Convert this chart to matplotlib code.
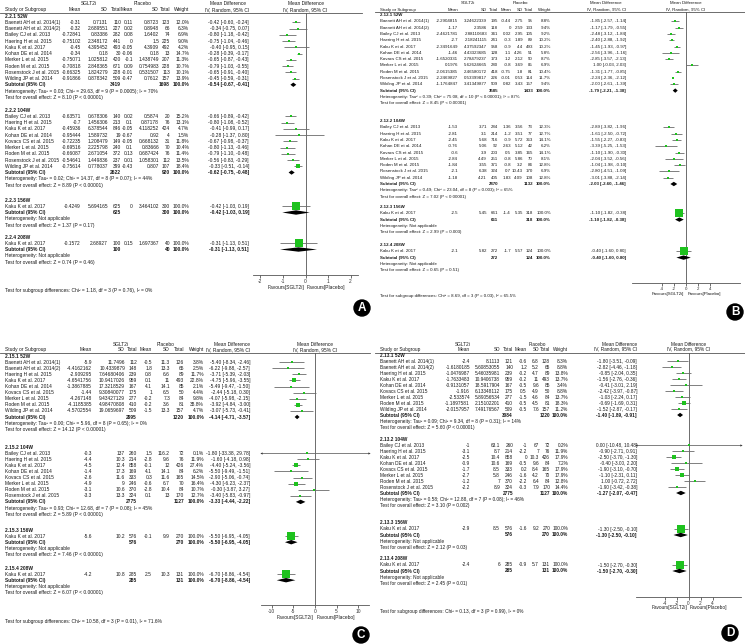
import matplotlib
matplotlib.use("Agg")
import matplotlib.pyplot as plt
from matplotlib.patches import Polygon, Circle

plt.rcParams['font.family'] = ['Liberation Sans', 'DejaVu Sans']

W, H = 745, 644
TXT = '#1a1a1a'
GREEN = '#1ec21e'
CILINE = '#6a6a6a'

# ---------------- Panel A ----------------
a_titles = ['2.2.1 52W', '2.2.2 104W', '2.2.3 156W', '2.2.4 208W']
a_study = ['Baenett AH et al. 2014(1)', 'Baenett AH et al. 2014(2)', 'Bailey CJ et al. 2013',
           'Haering H et al. 2015', 'Kaku K et al. 2017', 'Kohan DE et al. 2014',
           'Merker L et al. 2015', 'Roden M et al. 2015', 'Rosenstock J et al. 2015',
           'Wilding JP et al. 2014',
           'Bailey CJ et al. 2013', 'Haering H et al. 2015', 'Kaku K et al. 2017',
           'Kohan DE et al. 2014', 'Kovacs CS et al. 2015', 'Merker L et al. 2015',
           'Roden M et al. 2015', 'Rosenstock J et al. 2015', 'Wilding JP et al. 2014',
           'Kaku K et al. 2017', 'Kaku K et al. 2017']
a_group = [0] * 10 + [1] * 9 + [2, 3]
a_e_mean = [-0.31, -0.32, -0.72841, -0.75102, -0.45, -0.34, -0.75071, -0.70818, -0.66325, -0.91866,
            -0.63571, -0.7, -0.45936, -0.95444, -0.72235, -0.69516, -0.66087, -0.54641, -0.75614,
            -0.4249, -0.1572]
a_e_sd = [0.7131, 2.689551, 0.83386, 2.348172, 4.395452, 0.18, 1.025812, 2.848365, 1.824279, 0.878342,
          0.678306, 1.456306, 6.378544, 1.589732, 1.208479, 2.225798, 2.671054, 1.449836, 0.778037,
          5.694165, 2.68927]
a_e_n = [110, 227, 282, 441, 493, 30, 420, 671, 228, 509,
         140, 213, 846, 19, 149, 240, 372, 237, 399, 625, 100]
a_c_mean = [0.11, 0.02, 0.08, 0, -0.05, -0.06, -0.1, 0.09, -0.01, -0.47,
            0.02, 0.1, -0.05, -0.67, -0.05, 0.1, 0.13, 0.01, -0.43, 0, 0.15]
a_c_sd = [0.8723, 0.8948, 1.6402, 1.5, 4.3909, 0.18, 1.438749, 0.754983, 0.531507, 0.7612,
          0.5874, 0.87178, 4.118252, 0.92, 0.668132, 0.83666, 0.687424, 1.058301, 0.807,
          3.464102, 1.697367]
a_c_n = [123, 66, 74, 225, 492, 13, 207, 228, 113, 157,
         20, 76, 424, 4, 31, 70, 76, 112, 107, 300, 40]
a_weight = [12.0, 6.3, 6.9, 9.0, 4.2, 14.7, 11.3, 10.7, 10.1, 13.9,
            15.2, 13.1, 4.7, 1.5, 11.8, 10.4, 11.4, 13.5, 18.4, 100.0, 100.0]
a_md = [-0.42, -0.34, -0.80, -0.75, -0.40, -0.28, -0.65, -0.79, -0.65, -0.45,
        -0.66, -0.80, -0.41, -0.28, -0.67, -0.80, -0.79, -0.56, -0.33, -0.42, -0.31]
a_lo = [-0.60, -0.75, -1.18, -1.04, -0.95, -0.39, -0.87, -1.03, -0.91, -0.59,
        -0.89, -1.08, -0.99, -1.37, -0.98, -1.13, -1.10, -0.83, -0.51, -1.03, -1.13]
a_hi = [-0.24, 0.07, -0.42, -0.46, 0.15, -0.17, -0.43, -0.55, -0.40, -0.31,
        -0.42, -0.52, 0.17, 0.80, -0.37, -0.46, -0.48, -0.29, -0.14, 0.19, 0.51]
a_sub_e_n = [3419, 2622, 625, 100]
a_sub_c_n = [1698, 920, 300, 40]
a_sub_md = [-0.54, -0.62, -0.42, -0.31]
a_sub_lo = [-0.67, -0.75, -1.03, -1.13]
a_sub_hi = [-0.41, -0.48, 0.19, 0.51]
a_het = ['Heterogeneity: Tau² = 0.03; Chi² = 29.63, df = 9 (P = 0.0005); I² = 70%',
         'Heterogeneity: Tau² = 0.02; Chi² = 14.37, df = 8 (P = 0.07); I² = 44%',
         'Heterogeneity: Not applicable', 'Heterogeneity: Not applicable']
a_test = ['Test for overall effect: Z = 8.10 (P < 0.00001)',
          'Test for overall effect: Z = 8.89 (P < 0.00001)',
          'Test for overall effect: Z = 1.37 (P = 0.17)',
          'Test for overall effect: Z = 0.74 (P = 0.46)']
a_diff = 'Test for subgroup differences: Chi² = 1.18, df = 3 (P = 0.76), I² = 0%'

# ---------------- Panel B ----------------
b_titles = ['2.12.1 52W', '2.12.2 104W', '2.12.3 156W', '2.12.4 208W']
b_study = ['Baenett AH et al. 2014(1)', 'Baenett AH et al. 2014(2)', 'Bailey CJ et al. 2013',
           'Haering H et al. 2015', 'Kaku K et al. 2017', 'Kohan DE et al. 2014',
           'Kovacs CS et al. 2015', 'Merker L et al. 2015', 'Roden M et al. 2015',
           'Rosenstock J et al. 2015', 'Wilding JP et al. 2014',
           'Bailey CJ et al. 2013', 'Haering H et al. 2015', 'Kaku K et al. 2017',
           'Kohan DE et al. 2014', 'Kovacs CS et al. 2015', 'Merker L et al. 2015',
           'Roden M et al. 2015', 'Rosenstock J et al. 2015', 'Wilding JP et al. 2014',
           'Kaku K et al. 2017', 'Kaku K et al. 2017']
b_group = [0] * 11 + [1] * 9 + [2, 3]
b_e_mean = [-2.2904815, -1.17, -2.4621781, -2.7, -2.3491649, -1.46, -1.6520331, 0.1976, -2.0615385,
            -2.2469827, -1.1764847,
            -1.53, -2.81, -2.45, -0.76, -0.6, -2.84, -1.84, -2.1, -1.18, -2.5, -2.1]
b_e_sd = [3.24622339, 2.3586, 2.88110683, 2.18241115, 4.37592347, 4.43323685, 2.78479237, 5.62624665,
          2.46580172, 0.53399817, 3.41349877,
          3.71, 3.1, 5.68, 5.06, 3.9, 4.49, 3.55, 6.38, 4.21, 5.45, 5.82]
b_e_n = [195, 118, 341, 241, 958, 128, 173, 280, 418, 226, 509,
         284, 214, 716, 92, 203, 251, 371, 324, 405, 661, 272]
b_c_mean = [-0.44, 0, 0.02, -0.3, -0.9, 1.1, 1.2, -0.8, -0.75, -0.01, 0.82,
            1.36, -1.2, -0.9, 2.63, 0.5, -0.8, -0.8, 0.7, 1.83, -1.4, -1.7]
b_c_sd = [2.75, 2.59, 2.95, 1.89, 4.4, 4.26, 2.12, 3.69, 1.8, 0.53, 3.43,
          3.56, 3.51, 5.72, 5.12, 3.85, 5.86, 3.2, 10.43, 4.09, 5.35, 5.57]
b_c_n = [95, 133, 105, 89, 493, 51, 50, 85, 81, 114, 157,
         73, 77, 363, 42, 165, 70, 84, 170, 108, 318, 124]
b_weight = [8.8, 9.4, 9.2, 10.2, 10.2, 5.8, 8.7, 6.9, 10.4, 11.7, 9.4,
            12.3, 12.7, 14.1, 6.2, 14.1, 8.1, 12.8, 6.9, 12.8, 100.0, 100.0]
b_md = [-1.85, -1.17, -2.48, -2.40, -1.45, -2.56, -2.85, 1.00, -1.31, -2.24, -2.00,
        -2.89, -1.61, -1.55, -3.39, -1.10, -2.04, -1.04, -2.80, -3.01, -1.10, -0.40]
b_lo = [-2.57, -1.79, -3.12, -2.88, -1.93, -3.96, -3.57, -0.03, -1.77, -2.36, -2.61,
        -3.82, -2.50, -2.27, -5.25, -1.90, -3.52, -1.98, -4.51, -3.88, -1.82, -1.60]
b_hi = [-1.14, -0.55, -1.84, -1.92, -0.97, -1.16, -2.13, 2.03, -0.85, -2.12, -1.39,
        -1.96, -0.72, -0.83, -1.53, -0.30, -0.56, -0.10, -1.09, -2.14, -0.38, 0.80]
b_sub_e_n = [3585, 2870, 661, 272]
b_sub_c_n = [1433, 1132, 318, 124]
b_sub_md = [-1.79, -2.03, -1.10, -0.40]
b_sub_lo = [-2.21, -2.60, -1.82, -1.60]
b_sub_hi = [-1.38, -1.46, -0.38, 0.80]
b_het = ['Heterogeneity: Tau² = 0.39; Chi² = 75.08, df = 10 (P < 0.00001); I² = 87%',
         'Heterogeneity: Tau² = 0.49; Chi² = 23.04, df = 8 (P = 0.003); I² = 65%',
         'Heterogeneity: Not applicable', 'Heterogeneity: Not applicable']
b_test = ['Test for overall effect: Z = 8.45 (P < 0.00001)',
          'Test for overall effect: Z = 7.02 (P < 0.00001)',
          'Test for overall effect: Z = 2.99 (P = 0.003)',
          'Test for overall effect: Z = 0.65 (P = 0.51)']
b_diff = 'Test for subgroup differences: Chi² = 8.69, df = 3 (P = 0.03), I² = 65.5%'

# ---------------- Panel C ----------------
c_titles = ['2.15.1 52W', '2.15.2 104W', '2.15.3 156W', '2.15.4 208W']
c_study = ['Baenett AH et al. 2014(1)', 'Baenett AH et al. 2014(2)', 'Haering H et al. 2015',
           'Kaku K et al. 2017', 'Kohan DE et al. 2014', 'Kovacs CS et al. 2015',
           'Merker L et al. 2015', 'Roden M et al. 2015', 'Wilding JP et al. 2014',
           'Bailey CJ et al. 2013', 'Haering H et al. 2015', 'Kaku K et al. 2017',
           'Kohan DE et al. 2014', 'Kovacs CS et al. 2015', 'Merker L et al. 2015',
           'Roden M et al. 2015', 'Rosenstock J et al. 2015',
           'Kaku K et al. 2017', 'Kaku K et al. 2017']
c_group = [0] * 9 + [1] * 8 + [2, 3]
c_e_mean = [-5.9, -4.4162162, -2.909295, -4.6541756, -1.3867885, -1.44, -4.267148, -4.1185385,
            -4.5702554, -0.3, -4.4, -4.5, -1.4, -2.6, -4.9, -3.1, -3.3, -5.6, -4.2]
c_e_sd = [11.7496, 10.4339879, 7.64680406, 10.9417026, 17.3218529, 9.30840077, 9.43427129,
          4.98470808, 19.0659697, 137, 10.3, 12.4, 17.3, 11.6, 9, 10.6, 13.3, 10.2, 10.8]
c_e_n = [112, 148, 239, 959, 167, 175, 277, 410, 509, 260, 214, 858, 169, 333, 246, 370, 324, 576, 285]
c_c_mean = [-0.5, 1.8, 0.8, 0.1, 4.1, 1, -0.2, -0.2, -1.5, 1.5, -2.8, -0.1, 4.1, 0.3, -0.6, -2.8, 0.1,
            -0.1, 2.5]
c_c_sd = [11.3, 13.3, 6.6, 11, 14.1, 6.5, 7.3, 3.6, 13.3, 116.2, 9.6, 12, 14.1, 11.6, 6.7, 10.4, 13,
          9.9, 10.3]
c_c_n = [126, 65, 89, 493, 85, 50, 84, 81, 157, 72, 76, 426, 84, 165, 70, 84, 170, 270, 131]
c_weight = [3.8, 2.5, 11.7, 22.8, 2.1, 4.4, 9.8, 38.8, 4.7, 0.1, 11.9, 27.4, 6.2, 14.5, 16.4, 10.7,
            12.7, 100.0, 100.0]
c_md = [-5.40, -6.22, -3.71, -4.75, -5.49, -2.44, -4.07, -3.92, -3.07, -1.80, -1.60, -4.40, -5.50,
        -2.90, -4.30, -0.30, -3.40, -5.50, -6.70]
c_lo = [-8.34, -9.88, -5.39, -5.96, -9.47, -5.18, -5.98, -4.84, -5.73, -33.38, -4.18, -5.24, -9.49,
        -5.06, -6.23, -3.87, -5.83, -6.95, -8.86]
c_hi = [-2.46, -2.57, -2.03, -3.55, -1.50, 0.30, -2.15, -3.00, -0.41, 29.78, 0.98, -3.56, -1.51,
        -0.74, -2.37, 3.27, -0.97, -4.05, -4.54]
c_sub_e_n = [2995, 2775, 576, 285]
c_sub_c_n = [1220, 1127, 270, 131]
c_sub_md = [-4.14, -3.33, -5.50, -6.70]
c_sub_lo = [-4.71, -4.44, -6.95, -8.86]
c_sub_hi = [-3.57, -2.22, -4.05, -4.54]
c_het = ['Heterogeneity: Tau² = 0.00; Chi² = 5.96, df = 8 (P = 0.65); I² = 0%',
         'Heterogeneity: Tau² = 0.93; Chi² = 12.68, df = 7 (P = 0.08); I² = 45%',
         'Heterogeneity: Not applicable', 'Heterogeneity: Not applicable']
c_test = ['Test for overall effect: Z = 14.12 (P < 0.00001)',
          'Test for overall effect: Z = 5.89 (P < 0.00001)',
          'Test for overall effect: Z = 7.46 (P < 0.00001)',
          'Test for overall effect: Z = 6.07 (P < 0.00001)']
c_diff = 'Test for subgroup differences: Chi² = 10.58, df = 3 (P = 0.01), I² = 71.6%'

# ---------------- Panel D ----------------
d_titles = ['2.13.1 52W', '2.13.2 104W', '2.13.3 156W', '2.13.4 208W']
d_study = list(c_study)
d_group = [0] * 9 + [1] * 8 + [2, 3]
d_e_mean = [-2.4, -1.6180185, -1.0476987, -1.7633483, -0.9131057, -1.916, -2.533574, -1.1897581,
            -2.0157957, -1, -3.1, -2.5, -0.9, -1.7, -2.7, -1.2, -2.2, -2.9, -2.4]
d_e_sd = [8.1113, 5.60853055, 5.46035981, 10.9406738, 18.5917904, 6.13348112, 5.89056534,
          2.15102201, 7.49176567, 63.1, 8.7, 10.4, 10.6, 8.5, 5.8, 7, 8.9, 8.5, 6]
d_e_n = [121, 140, 239, 959, 167, 175, 277, 410, 509, 260, 214, 858, 169, 333, 246, 370, 324, 576, 285]
d_c_mean = [-0.6, 1.2, -0.2, -0.2, -0.5, 0.5, -1.5, -0.5, -0.5, -1, -2.2, 0, -0.5, 0.2, -1.6, -2.2,
            -0.3, -1.6, -0.9]
d_c_sd = [6.8, 5.2, 4.7, 11, 9.6, 4.9, 4.6, 4.5, 7.6, 67, 7, 10.3, 9.6, 8.4, 4.2, 6.4, 7.9, 9.2, 5.7]
d_c_n = [128, 65, 89, 493, 85, 50, 84, 81, 157, 72, 76, 426, 84, 165, 70, 84, 170, 270, 131]
d_weight = [8.3, 8.8, 13.8, 13.7, 3.4, 8.8, 13.7, 18.3, 11.2, 0.2, 11.9, 17.9, 7.2, 17.9, 17.9, 12.8,
            14.4, 100.0, 100.0]
d_md = [-1.80, -2.82, -0.85, -1.56, -0.41, -2.42, -1.03, -0.69, -1.52, 0.00, -0.90, -2.50, -0.40,
        -1.90, -1.10, 1.00, -1.90, -1.30, -1.50]
d_lo = [-3.51, -4.46, -2.04, -2.76, -3.01, -3.97, -2.24, -1.69, -2.87, -10.48, -2.71, -3.70, -3.00,
        -3.10, -2.31, -0.72, -3.42, -2.50, -2.70]
d_hi = [-0.09, -1.18, 0.35, -0.36, 2.19, -0.87, 0.17, 0.31, -0.17, 10.48, 0.91, -1.30, 2.20, -0.70,
        0.11, 2.72, -0.38, -0.10, -0.30]
d_sub_e_n = [3084, 2775, 576, 285]
d_sub_c_n = [1220, 1127, 270, 131]
d_sub_md = [-1.40, -1.27, -1.30, -1.50]
d_sub_lo = [-1.89, -2.07, -2.50, -2.70]
d_sub_hi = [-0.91, -0.47, -0.10, -0.30]
d_het = ['Heterogeneity: Tau² = 0.09; Chi² = 9.34, df = 8 (P = 0.31); I² = 14%',
         'Heterogeneity: Tau² = 0.58; Chi² = 12.88, df = 7 (P = 0.08); I² = 46%',
         'Heterogeneity: Not applicable', 'Heterogeneity: Not applicable']
d_test = ['Test for overall effect: Z = 5.60 (P < 0.00001)',
          'Test for overall effect: Z = 3.10 (P = 0.002)',
          'Test for overall effect: Z = 2.12 (P = 0.03)',
          'Test for overall effect: Z = 2.45 (P = 0.01)']
d_diff = 'Test for subgroup differences: Chi² = 0.13, df = 3 (P = 0.99), I² = 0%'


def pack(p):
    g = globals()
    keys = ['titles', 'study', 'group', 'e_mean', 'e_sd', 'e_n', 'c_mean', 'c_sd', 'c_n', 'weight',
            'md', 'lo', 'hi', 'sub_e_n', 'sub_c_n', 'sub_md', 'sub_lo', 'sub_hi', 'het', 'test', 'diff']
    return {k: g[p + '_' + k] for k in keys}


# page layout of each panel (pixels)
layouts = {
    'a': dict(letter='A', x0=0, line_x1=362, fs=3.5, grp_x=[89, 143, 228],
              cols=[81, 108, 121, 133, 159, 170, 189], ci_r=249,
              fx=(253, 358), xlim=(-2.33, 2.33), ticks=[-2, -1, 0, 1, 2],
              grp_y=3, hdr_y=9.5, line_y=13, sections=[16, 110, 200, 237], dy=6.25,
              axis_y=275, fav_y=287, diff_y=290, circle=(362, 308)),
    'b': dict(letter='B', x0=375, line_x1=745, fs=3.2, grp_x=[468, 520, 606],
              cols=[458, 487, 498, 511, 523, 533, 551], ci_r=626,
              fx=(632, 740), xlim=(-9, 9), ticks=[-4, -2, 0, 2, 4],
              grp_y=3, hdr_y=9.5, line_y=12, sections=[15, 121, 207, 245], dy=6.3,
              axis_y=283, fav_y=294, diff_y=296, circle=(735, 312)),
    'c': dict(letter='C', x0=0, line_x1=370, fs=3.5, grp_x=[121, 166, 232],
              cols=[92, 125, 137, 152, 170, 184, 204], ci_r=250,
              fx=(261, 369), xlim=(-12.5, 12.5), ticks=[-10, -5, 0, 5, 10],
              grp_y=344, hdr_y=349.5, line_y=353, sections=[356, 447, 530, 568], dy=6.1,
              axis_y=605, fav_y=617, diff_y=621, circle=(361, 635)),
    'd': dict(letter='D', x0=375, line_x1=745, fs=3.4, grp_x=[463, 537, 620],
              cols=[470, 500, 513, 527, 539, 550, 568], ci_r=637,
              fx=(636, 741), xlim=(-8.75, 8.75), ticks=[-4, -2, 0, 2, 4],
              grp_y=344, hdr_y=349, line_y=353, sections=[355, 439, 523, 559], dy=6.0,
              axis_y=597, fav_y=608, diff_y=611, circle=(730, 633)),
}


def ci_text(md, lo, hi):
    return f"{md:.2f} [{lo:.2f}, {hi:.2f}]"


def draw_panel(fig, bg, d, lay):
    fs = lay['fs']
    kw = dict(fontsize=fs, color=TXT, va='center')
    nx = lay['x0'] + 5
    cols = lay['cols']
    fx0, fx1 = lay['fx']
    fc = (fx0 + fx1) / 2

    # column headers
    for label, gx in zip(['SGLT2i', 'Placebo', 'Mean Difference'], lay['grp_x']):
        bg.text(gx, lay['grp_y'], label, ha='center', **kw)
    bg.text(fc, lay['grp_y'], 'Mean Difference', ha='center', **kw)
    bg.text(nx, lay['hdr_y'], 'Study or Subgroup', ha='left', **kw)
    for label, cx in zip(['Mean', 'SD', 'Total', 'Mean', 'SD', 'Total', 'Weight'], cols):
        bg.text(cx, lay['hdr_y'], label, ha='right', **kw)
    bg.text(lay['ci_r'], lay['hdr_y'], 'IV, Random, 95% CI', ha='right', **kw)
    bg.text(fc, lay['hdr_y'], 'IV, Random, 95% CI', ha='center', **kw)
    bg.plot([lay['x0'], lay['line_x1']], [lay['line_y']] * 2, color='#555555', lw=0.6)

    # forest axes, y in page pixels
    ax = fig.add_axes([fx0 / W, 1 - lay['axis_y'] / H, (fx1 - fx0) / W,
                       (lay['axis_y'] - lay['line_y']) / H])
    ax.set_xlim(lay['xlim'])
    ax.set_ylim(lay['axis_y'], lay['line_y'])
    ax.patch.set_alpha(0)
    for s in ['left', 'right', 'top']:
        ax.spines[s].set_visible(False)
    ax.spines['bottom'].set_linewidth(0.6)
    ax.spines['bottom'].set_color('#555555')
    ax.set_yticks([])
    ax.set_xticks(lay['ticks'])
    ax.set_xticklabels([f'{t:g}' for t in lay['ticks']])
    ax.tick_params(axis='x', length=2, width=0.5, pad=1, labelsize=fs, colors='#333333')
    ax.axvline(0, color='#555555', lw=0.6, zorder=1)
    xmin, xmax = lay['xlim']
    gap = (xmax - xmin) * 0.015
    ax.text(-gap, lay['fav_y'], 'Favours[SGLT2i]', ha='right', **kw)
    ax.text(gap, lay['fav_y'], 'Favours[Placebo]', ha='left', **kw)

    dy = lay['dy']
    for g, title in enumerate(d['titles']):
        y = lay['sections'][g]
        bg.text(nx, y, title, ha='left', weight='bold', **kw)
        idx = [i for i, gg in enumerate(d['group']) if gg == g]
        for k, i in enumerate(idx):
            yy = y + (k + 1) * dy
            bg.text(nx, yy, d['study'][i], ha='left', **kw)
            vals = [d['e_mean'][i], d['e_sd'][i], d['e_n'][i],
                    d['c_mean'][i], d['c_sd'][i], d['c_n'][i]]
            for v, cx in zip(vals, cols[:6]):
                bg.text(cx, yy, str(v), ha='right', **kw)
            bg.text(cols[6], yy, f"{d['weight'][i]:.1f}%", ha='right', **kw)
            md, lo, hi = d['md'][i], d['lo'][i], d['hi'][i]
            bg.text(lay['ci_r'], yy, ci_text(md, lo, hi), ha='right', **kw)
            # CI line, clipped with arrows
            l, r = max(lo, xmin), min(hi, xmax)
            ax.plot([l, r], [yy, yy], color=CILINE, lw=0.6, zorder=2, solid_capstyle='butt')
            if lo < xmin:
                ax.plot([xmin], [yy], marker='<', ms=1.6, color='#333333', mew=0, clip_on=False)
            if hi > xmax:
                ax.plot([xmax], [yy], marker='>', ms=1.6, color='#333333', mew=0, clip_on=False)
            side = max(1.5, 7.5 * (d['weight'][i] / 100) ** 0.5) * 0.72
            ax.scatter([md], [yy], marker='s', s=side ** 2, color=GREEN, linewidths=0, zorder=3)
        # subtotal
        ys = y + (len(idx) + 1) * dy
        bkw = dict(kw, weight='bold')
        bg.text(nx, ys, 'Subtotal (95% CI)', ha='left', **bkw)
        bg.text(cols[2], ys, str(d['sub_e_n'][g]), ha='right', **bkw)
        bg.text(cols[5], ys, str(d['sub_c_n'][g]), ha='right', **bkw)
        bg.text(cols[6], ys, '100.0%', ha='right', **bkw)
        smd, slo, shi = d['sub_md'][g], d['sub_lo'][g], d['sub_hi'][g]
        bg.text(lay['ci_r'], ys, ci_text(smd, slo, shi), ha='right', **bkw)
        ax.add_patch(Polygon([(slo, ys), (smd, ys - 2.2), (shi, ys), (smd, ys + 2.2)],
                             closed=True, color='black', lw=0, zorder=3))
        bg.text(nx, ys + dy, d['het'][g], ha='left', **kw)
        bg.text(nx, ys + 2 * dy, d['test'][g], ha='left', **kw)

    bg.text(nx, lay['diff_y'], d['diff'], ha='left', **kw)

    cx, cy = lay['circle']
    bg.add_patch(Circle((cx, cy), 8, color='black', zorder=5))
    bg.text(cx, cy + 0.3, lay['letter'], color='white', fontsize=8.5, weight='bold',
            ha='center', va='center', zorder=6)


fig = plt.figure(figsize=(W / 100, H / 100), dpi=100)
bg = fig.add_axes([0, 0, 1, 1])
bg.set_xlim(0, W)
bg.set_ylim(H, 0)
bg.axis('off')

for p in ['a', 'b', 'c', 'd']:
    draw_panel(fig, bg, pack(p), layouts[p])

fig.savefig('out.png', dpi=100)
